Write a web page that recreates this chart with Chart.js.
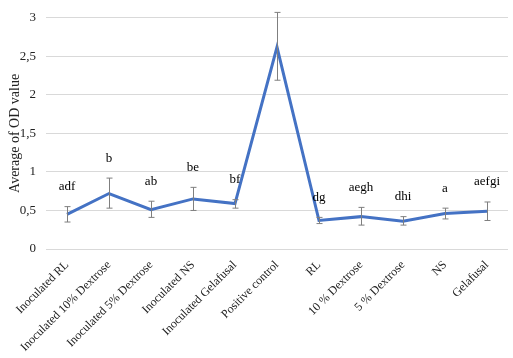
<!DOCTYPE html>
<html><head><meta charset="utf-8">
<script src="https://cdn.jsdelivr.net/npm/chart.js@4"></script>
<style>html,body{margin:0;padding:0;background:#fff}#wrap{width:513px;height:358px}</style>
</head><body><div id="wrap"><canvas id="c" width="513" height="358"></canvas></div>
<script>
const categories = ["Inoculated RL","Inoculated 10% Dextrose","Inoculated 5% Dextrose","Inoculated NS","Inoculated Gelafusal","Positive control","RL","10 % Dextrose","5 % Dextrose","NS","Gelafusal"];
const means = [0.45,0.72,0.51,0.65,0.59,2.62,0.37,0.42,0.36,0.46,0.49];
const errHigh = [0.55,0.92,0.62,0.80,0.64,3.07,0.41,0.54,0.42,0.53,0.61];
const errLow = [0.35,0.53,0.41,0.50,0.53,2.19,0.33,0.31,0.31,0.39,0.37];
const letters = ["adf","b","ab","be","bf","","dg","aegh","dhi","a","aefgi"];
const yTicks = [0,0.5,1,1.5,2,2.5,3];

const FONT = "'Liberation Serif', 'Times New Roman', serif";

const errorPlugin = {
  id: 'errbars',
  afterDatasetsDraw(chart) {
    const ctx = chart.ctx, x = chart.scales.x, y = chart.scales.y;
    ctx.save();
    ctx.strokeStyle = '#7f7f7f';
    ctx.lineWidth = 1;
    for (let i = 0; i < means.length; i++) {
      const px = Math.round(x.getPixelForValue(i)) + 0.5;
      const yt = y.getPixelForValue(errHigh[i]);
      const yb = y.getPixelForValue(errLow[i]);
      ctx.beginPath();
      ctx.moveTo(px, yt); ctx.lineTo(px, yb);
      ctx.moveTo(px - 3, yt); ctx.lineTo(px + 3, yt);
      ctx.moveTo(px - 3, yb); ctx.lineTo(px + 3, yb);
      ctx.stroke();
    }
    ctx.fillStyle = '#000';
    ctx.font = "13px " + FONT;
    ctx.textAlign = 'center';
    ctx.textBaseline = 'middle';
    for (let i = 0; i < letters.length; i++) {
      if (!letters[i]) continue;
      const px = x.getPixelForValue(i);
      const yt = y.getPixelForValue(errHigh[i]);
      ctx.fillText(letters[i], px, yt - 20);
    }
    ctx.restore();
  }
};

new Chart(document.getElementById('c'), {
  type: 'line',
  data: {
    labels: categories,
    datasets: [{
      data: means,
      borderColor: '#4472C4',
      borderWidth: 3,
      pointRadius: 0,
      tension: 0,
      fill: false
    }]
  },
  options: {
    responsive: false,
    animation: false,
    devicePixelRatio: 1,
    layout: { padding: { top: 12, right: 5, left: 7, bottom: 0 } },
    plugins: { legend: { display: false }, tooltip: { enabled: false } },
    scales: {
      x: {
        offset: true,
        grid: { display: false, drawTicks: false },
        border: { display: false },
        ticks: {
          minRotation: 45, maxRotation: 45, autoSkip: false,
          color: '#222', padding: 9,
          font: { family: FONT, size: 12 }
        },
        afterFit(s) { s.height = 109; }
      },
      y: {
        min: 0, max: 3,
        afterBuildTicks(s) { s.ticks = yTicks.map(v => ({ value: v })); },
        grid: { color: '#d9d9d9', lineWidth: 1, drawTicks: false },
        border: { display: false },
        ticks: {
          color: '#222', padding: 10,
          font: { family: FONT, size: 13 },
          callback: v => String(v).replace('.', ',')
        },
        title: { display: true, text: 'Average of OD value', color: '#222', font: { family: FONT, size: 14 }, padding: 0 },
        afterFit(s) { s.width = 39; }
      }
    }
  },
  plugins: [errorPlugin]
});
</script></body></html>
